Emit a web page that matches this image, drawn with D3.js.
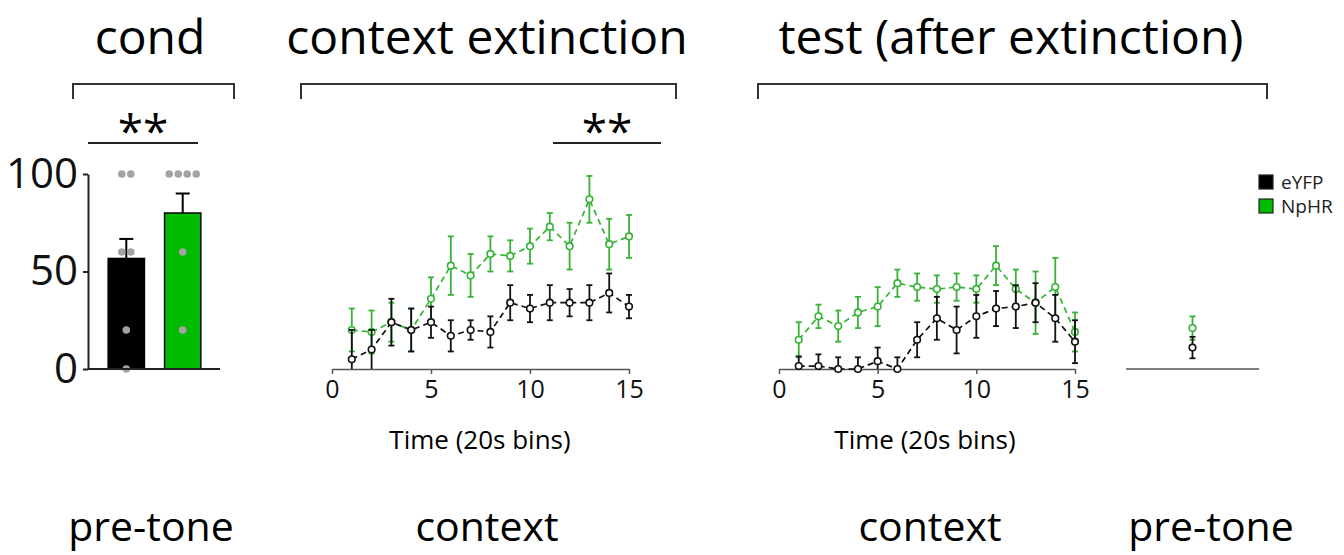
<!DOCTYPE html>
<html>
<head>
<meta charset="utf-8">
<script src="https://cdn.jsdelivr.net/npm/d3@7"></script>
<style>
  body { margin: 0; background: #fff; }
  svg { display: block; font-family: 'Open Sans', sans-serif; }
</style>
</head>
<body>
<div id="chart-area"><svg></svg></div>
<script>
// conditioning bars (pre-tone freezing %)
const groups = ["eYFP", "NpHR"];
const condMeans = [56.7, 80];
const condSem = [10, 10];
const condDots = [[100, 100, 60, 60, 20, 0], [100, 100, 100, 100, 60, 20]];

// context extinction, 20s bins
const bins = [1, 2, 3, 4, 5, 6, 7, 8, 9, 10, 11, 12, 13, 14, 15];
const extYFP = [5, 10, 24, 20, 24, 17, 20, 19, 34, 31, 34, 34, 34, 39, 32];
const extYFPSem = [15, 10, 12, 11, 8, 8, 5, 8, 9, 7, 9, 7, 9, 10, 6];
const extHR = [20, 19, 24, 20, 36, 53, 48, 59, 58, 63, 73, 63, 87, 64, 68];
const extHRSem = [11, 11, 10, 11, 11, 15, 11, 9, 8, 9, 7, 12, 12, 13, 11];

// test after extinction, context
const testYFP = [1.5, 1.5, 0, 0, 4, 0, 15, 26, 20, 27, 31, 32, 34, 26, 14];
const testYFPSem = [5, 6, 6, 6, 7, 6, 9, 11, 12, 11, 9, 11, 10, 12, 11];
const testHR = [15, 27, 22, 29, 32, 44, 42, 41, 42, 41, 53, 41, 34, 42, 19];
const testHRSem = [9, 6, 8, 8, 10, 7, 7, 7, 7, 7, 10, 10, 16, 15, 10];

// test after extinction, pre-tone
const preToneYFP = [11];
const preToneYFPSem = [5.5];
const preToneHR = [21];
const preToneHRSem = [6];

const xTicks = [0, 5, 10, 15];
const yTicks = [0, 50, 100];

const colors = { eYFP: "#111", NpHR: "#36b336" };
const barColors = { eYFP: "#000", NpHR: "#00bb00" };

const svg = d3.select("#chart-area svg")
  .attr("width", 1344)
  .attr("height", 555);

const y = d3.scaleLinear().domain([0, 100]).range([369, 174]);

// ---------- titles, brackets, bottom labels ----------
const titles = [
  { text: "cond", x: 150 },
  { text: "context extinction", x: 487 },
  { text: "test (after extinction)", x: 1011 }
];
svg.selectAll(".title").data(titles).enter().append("text")
  .attr("class", "title")
  .attr("x", d => d.x).attr("y", 54)
  .attr("text-anchor", "middle")
  .style("font-size", "48px")
  .text(d => d.text);

const brackets = [[73, 234], [301, 676], [758, 1267]];
svg.selectAll(".bracket").data(brackets).enter().append("path")
  .attr("class", "bracket")
  .attr("d", d => `M${d[0]},99V84H${d[1]}V99`)
  .attr("fill", "none").attr("stroke", "#333").attr("stroke-width", 2);

const bottomLabels = [
  { text: "pre-tone", x: 151 },
  { text: "context", x: 487 },
  { text: "context", x: 930 },
  { text: "pre-tone", x: 1211 }
];
svg.selectAll(".bottom").data(bottomLabels).enter().append("text")
  .attr("class", "bottom")
  .attr("x", d => d.x).attr("y", 541)
  .attr("text-anchor", "middle")
  .style("font-size", "41px")
  .text(d => d.text);

// significance marks
const sigMarks = [[88, 198], [553, 661]];
sigMarks.forEach(([a, b]) => {
  svg.append("line")
    .attr("x1", a).attr("x2", b).attr("y1", 143).attr("y2", 143)
    .attr("stroke", "#222").attr("stroke-width", 2);
  svg.append("text")
    .attr("x", (a + b) / 2).attr("y", 148)
    .attr("text-anchor", "middle")
    .style("font-size", "46px")
    .text("**");
});

// ---------- cond bar panel ----------
const xBar = d3.scaleBand().domain(groups).range([98, 211])
  .paddingInner(0.357).paddingOuter(0.18);

const gBar = svg.append("g").attr("class", "cond");

gBar.selectAll("rect").data(groups).enter().append("rect")
  .attr("x", d => xBar(d))
  .attr("width", xBar.bandwidth())
  .attr("y", (d, i) => y(condMeans[i]))
  .attr("height", (d, i) => y(0) - y(condMeans[i]))
  .attr("fill", d => barColors[d])
  .attr("stroke", "#000").attr("stroke-width", 1.5);

groups.forEach((gName, i) => {
  const cx = xBar(gName) + xBar.bandwidth() / 2;
  const top = y(condMeans[i] + condSem[i]);
  gBar.append("line")
    .attr("x1", cx).attr("x2", cx)
    .attr("y1", y(condMeans[i])).attr("y2", top)
    .attr("stroke", "#000").attr("stroke-width", 2);
  gBar.append("line")
    .attr("x1", cx - 7).attr("x2", cx + 7)
    .attr("y1", top).attr("y2", top)
    .attr("stroke", "#000").attr("stroke-width", 2);

  // individual animals, side by side when equal
  const counts = d3.rollup(condDots[i], v => v.length, d => d);
  const seen = new Map();
  condDots[i].forEach(v => {
    const n = counts.get(v);
    const k = seen.get(v) || 0;
    seen.set(v, k + 1);
    gBar.append("circle")
      .attr("cx", cx + (k - (n - 1) / 2) * 9)
      .attr("cy", y(v))
      .attr("r", 3.8)
      .attr("fill", "#a3a3a3");
  });
});

const yAxis = d3.axisLeft(y).tickValues(yTicks).tickSize(5).tickPadding(5).tickSizeOuter(0);
const gy = svg.append("g")
  .attr("class", "y-axis")
  .attr("transform", "translate(88,0)")
  .call(yAxis);
gy.select(".domain").attr("stroke", "#222").attr("stroke-width", 2);
gy.selectAll(".tick line").attr("stroke", "#222").attr("stroke-width", 2);
gy.selectAll("text")
  .style("font-size", "42px").attr("font-family", "'Open Sans', sans-serif")
  .attr("fill", "#111");

gBar.append("line")
  .attr("x1", 88).attr("x2", 220).attr("y1", y(0)).attr("y2", y(0))
  .attr("stroke", "#222").attr("stroke-width", 2);

// ---------- line panels ----------
const drawSeries = (g, x, xs, means, sems, color) => {
  const line = d3.line()
    .x((d, i) => x(xs[i]))
    .y(d => y(d));

  g.append("path")
    .attr("d", line(means))
    .attr("fill", "none")
    .attr("stroke", color)
    .attr("stroke-width", 1.7)
    .attr("stroke-dasharray", "6,4");

  const pts = means.map((m, i) => ({ x: x(xs[i]), m, s: sems[i] }));
  const eb = g.append("g");
  pts.forEach(p => {
    const hi = y(p.m + p.s);
    const lo = y(Math.max(0, p.m - p.s));
    eb.append("line")
      .attr("x1", p.x).attr("x2", p.x).attr("y1", hi).attr("y2", lo)
      .attr("stroke", color).attr("stroke-width", 1.8);
    eb.append("line")
      .attr("x1", p.x - 3).attr("x2", p.x + 3).attr("y1", hi).attr("y2", hi)
      .attr("stroke", color).attr("stroke-width", 1.8);
    if (p.m - p.s > 0) {
      eb.append("line")
        .attr("x1", p.x - 3).attr("x2", p.x + 3).attr("y1", lo).attr("y2", lo)
        .attr("stroke", color).attr("stroke-width", 1.8);
    }
  });

  g.selectAll(null).data(pts).enter().append("circle")
    .attr("cx", d => d.x).attr("cy", d => y(d.m))
    .attr("r", 3.3)
    .attr("fill", "#fff")
    .attr("stroke", color).attr("stroke-width", 1.6);
};

const timePanel = (x0, x1, labelX, hr, hrSem, yfp, yfpSem) => {
  const x = d3.scaleLinear().domain([0, 15]).range([x0, x1]);
  const g = svg.append("g");

  const xAxis = d3.axisBottom(x).tickValues(xTicks).tickSize(5).tickPadding(6).tickSizeOuter(0);
  const gx = g.append("g")
    .attr("transform", `translate(0,${y(0)})`)
    .call(xAxis);
  gx.select(".domain").attr("stroke", "#555").attr("stroke-width", 1.5);
  gx.selectAll(".tick line").attr("stroke", "#555").attr("stroke-width", 1.5);
  gx.selectAll("text")
    .style("font-size", "25px").attr("font-family", "'Open Sans', sans-serif")
    .attr("fill", "#111");

  g.append("text")
    .attr("x", labelX).attr("y", 449)
    .attr("text-anchor", "middle")
    .style("font-size", "26px")
    .text("Time (20s bins)");

  drawSeries(g, x, bins, hr, hrSem, colors.NpHR);
  drawSeries(g, x, bins, yfp, yfpSem, colors.eYFP);
};

timePanel(332, 629, 480, extHR, extHRSem, extYFP, extYFPSem);
timePanel(779, 1075, 925, testHR, testHRSem, testYFP, testYFPSem);

// pre-tone test
const xPre = d3.scalePoint().domain(["pre-tone"]).range([1126, 1259]).padding(0.5);
const gPre = svg.append("g");
gPre.append("line")
  .attr("x1", xPre.range()[0]).attr("x2", xPre.range()[1])
  .attr("y1", y(0)).attr("y2", y(0))
  .attr("stroke", "#555").attr("stroke-width", 1.5);
drawSeries(gPre, xPre, ["pre-tone"], preToneHR, preToneHRSem, colors.NpHR);
drawSeries(gPre, xPre, ["pre-tone"], preToneYFP, preToneYFPSem, colors.eYFP);

// legend
const legend = svg.append("g").attr("transform", "translate(1259,175)");
groups.forEach((gName, i) => {
  legend.append("rect")
    .attr("x", 0).attr("y", i * 24)
    .attr("width", 14).attr("height", 14)
    .attr("fill", barColors[gName])
    .attr("stroke", "#222").attr("stroke-width", 1.2);
  legend.append("text")
    .attr("x", 22).attr("y", i * 24 + 14)
    .style("font-size", "19px")
    .attr("fill", "#222")
    .text(gName);
});
</script>
</body>
</html>
